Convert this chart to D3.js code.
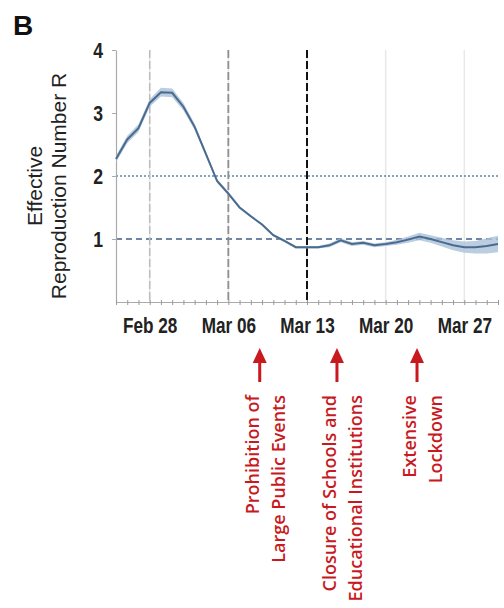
<!DOCTYPE html>
<html>
<head>
<meta charset="utf-8">
<script src="https://cdn.jsdelivr.net/npm/d3@7"></script>
<style>
  body { margin: 0; background: #fff; }
  svg { display: block; }
</style>
</head>
<body>
<div class="main"></div>
<script>
// effective reproduction number, one value per day from Feb 25 2020
var startDay = "2020-02-25";
var rMean = [2.27, 2.58, 2.76, 3.16, 3.33, 3.32, 3.10, 2.78, 2.35, 1.92, 1.72, 1.50, 1.36, 1.23, 1.06, 0.97, 0.87, 0.87, 0.87, 0.90, 0.98, 0.92, 0.94, 0.90, 0.92, 0.95, 0.99, 1.04, 1.00, 0.95, 0.90, 0.87, 0.87, 0.89, 0.92];
var rLow = [2.22, 2.52, 2.70, 3.10, 3.26, 3.25, 3.04, 2.73, 2.31, 1.89, 1.69, 1.48, 1.34, 1.21, 1.04, 0.95, 0.85, 0.85, 0.85, 0.87, 0.95, 0.89, 0.91, 0.87, 0.89, 0.91, 0.94, 0.98, 0.94, 0.88, 0.82, 0.78, 0.77, 0.77, 0.79];
var rHigh = [2.32, 2.64, 2.82, 3.22, 3.40, 3.39, 3.16, 2.83, 2.39, 1.95, 1.75, 1.52, 1.38, 1.25, 1.08, 0.99, 0.89, 0.89, 0.89, 0.93, 1.01, 0.95, 0.97, 0.93, 0.95, 0.99, 1.04, 1.10, 1.06, 1.02, 0.98, 0.96, 0.97, 1.01, 1.05];

var yTicks = [1, 2, 3, 4];
var weekTicks = ["2020-02-28", "2020-03-06", "2020-03-13", "2020-03-20", "2020-03-27"];
// vertical dashed markers
var markers = [
    { date: "2020-02-28", color: "#bdbdbd", width: 1.5 },
    { date: "2020-03-06", color: "#8f8f8f", width: 1.8 },
    { date: "2020-03-13", color: "#111111", width: 2 }
];
var events = [
    { date: "2020-03-08T19:00", lines: ["Prohibition of", "Large Public Events"] },
    { date: "2020-03-15T16:00", lines: ["Closure of Schools and", "Educational Institutions"] },
    { date: "2020-03-22T19:00", lines: ["Extensive", "Lockdown"] }
];

var width = 504, height = 608;
var parse = d3.isoParse;
var day0 = parse(startDay);
var data = rMean.map(function (v, i) {
    return { date: d3.timeDay.offset(day0, i), r: v, lo: rLow[i], hi: rHigh[i] };
});

var svg = d3.select("div.main").append("svg")
    .attr("width", width)
    .attr("height", height);

var x = d3.scaleTime()
    .domain([day0, d3.timeDay.offset(day0, rMean.length - 1)])
    .range([116, 498]);
var y = d3.scaleLinear().domain([0, 4]).range([302, 50]);

var tickFont = "'Liberation Sans', Arial, sans-serif";

// weekly gridlines
svg.append("g").selectAll("line")
    .data(weekTicks)
    .enter().append("line")
    .attr("x1", d => x(parse(d))).attr("x2", d => x(parse(d)))
    .attr("y1", y(4)).attr("y2", y(0))
    .attr("stroke", "#e8e8e8")
    .attr("stroke-width", 1.5);

// reference lines R=2 and R=1
svg.append("line")
    .attr("x1", x.range()[0]).attr("x2", x.range()[1])
    .attr("y1", y(2)).attr("y2", y(2))
    .attr("stroke", "#5f86a6").attr("stroke-width", 1.3)
    .attr("stroke-dasharray", "2,2");
svg.append("line")
    .attr("x1", x.range()[0]).attr("x2", x.range()[1])
    .attr("y1", y(1)).attr("y2", y(1))
    .attr("stroke", "#3f5f87").attr("stroke-width", 1.5)
    .attr("stroke-dasharray", "6,4");

svg.append("g").selectAll("line")
    .data(markers)
    .enter().append("line")
    .attr("x1", d => x(parse(d.date))).attr("x2", d => x(parse(d.date)))
    .attr("y1", y(4)).attr("y2", y(0))
    .attr("stroke", d => d.color)
    .attr("stroke-width", d => d.width)
    .attr("stroke-dasharray", "8,3");

// axes
var yAxis = svg.append("g")
    .attr("transform", "translate(116,0)")
    .call(d3.axisLeft(y).tickValues(yTicks).tickSize(4).tickSizeOuter(0).tickPadding(0)
        .tickFormat(d3.format("d")));
yAxis.select(".domain").attr("stroke", "#aaa").attr("stroke-width", 1.2);
yAxis.selectAll(".tick line").attr("stroke", "#aaa");
yAxis.selectAll("text")
    .attr("x", 0)
    .attr("transform", "translate(-13,0) scale(0.8,1)")
    .style("font-family", tickFont).style("font-size", "22px").style("font-weight", "bold")
    .attr("fill", "#222").attr("dy", "0.36em");

var xMinor = svg.append("g")
    .attr("transform", "translate(0,302)")
    .call(d3.axisBottom(x).ticks(d3.timeDay.every(1)).tickSize(3).tickSizeOuter(0).tickFormat(""));
xMinor.select(".domain").attr("stroke", "#aaa").attr("stroke-width", 1.2);
xMinor.selectAll(".tick line").attr("stroke", "#999").attr("y1", -2);

var xAxis = svg.append("g")
    .attr("transform", "translate(0,302)")
    .call(d3.axisBottom(x).tickValues(weekTicks.map(parse)).tickSize(0).tickPadding(15)
        .tickFormat(d3.timeFormat("%b %d")));
xAxis.select(".domain").remove();
xAxis.selectAll("text")
    .attr("transform", "scale(0.78,1)")
    .style("font-family", tickFont).style("font-size", "22px").style("font-weight", "bold")
    .attr("fill", "#222");

// uncertainty band + line
var area = d3.area()
    .x(d => x(d.date))
    .y0(d => y(d.lo))
    .y1(d => y(d.hi));
svg.append("path")
    .datum(data)
    .attr("d", area)
    .attr("fill", "#a9c1d9")
    .attr("opacity", 0.8);

var line = d3.line()
    .x(d => x(d.date))
    .y(d => y(d.r));
svg.append("path")
    .datum(data)
    .attr("d", line)
    .attr("fill", "none")
    .attr("stroke", "#4b6b8e")
    .attr("stroke-width", 2);

// titles
svg.append("text")
    .attr("x", 13).attr("y", 35)
    .style("font-family", "'Liberation Sans', Arial, sans-serif")
    .style("font-size", "28px").style("font-weight", "bold")
    .attr("fill", "#111")
    .text("B");

var yTitle = svg.append("g").attr("transform", "translate(0,186) rotate(-90)");
yTitle.append("text").attr("x", 0).attr("y", 42).text("Effective");
yTitle.append("text").attr("x", 0).attr("y", 66).text("Reproduction Number R");
yTitle.selectAll("text")
    .attr("text-anchor", "middle")
    .style("font-family", "'Liberation Sans', Arial, sans-serif")
    .style("font-size", "21px")
    .attr("fill", "#222");

// event arrows and labels
var red = "#c8191e";
var ev = svg.append("g").selectAll("g")
    .data(events)
    .enter().append("g")
    .attr("transform", d => "translate(" + x(parse(d.date)) + ",0)");
ev.append("line")
    .attr("x1", 0).attr("x2", 0)
    .attr("y1", 360).attr("y2", 382)
    .attr("stroke", red).attr("stroke-width", 3);
ev.append("path")
    .attr("d", d3.line()([[-7, 363], [0, 348], [7, 363]]) + "Z")
    .attr("fill", red);
ev.each(function (d) {
    var g = d3.select(this);
    d.lines.forEach(function (t, i) {
        g.append("text")
            .attr("transform", "translate(" + (i === 0 ? -1 : 25) + ",395) rotate(-90)")
            .attr("text-anchor", "end")
            .style("font-family", "'Open Sans', 'Noto Sans', sans-serif")
            .style("font-size", "18px")
            .style("font-weight", "600")
            .attr("fill", red)
            .text(t);
    });
});
</script>
</body>
</html>
